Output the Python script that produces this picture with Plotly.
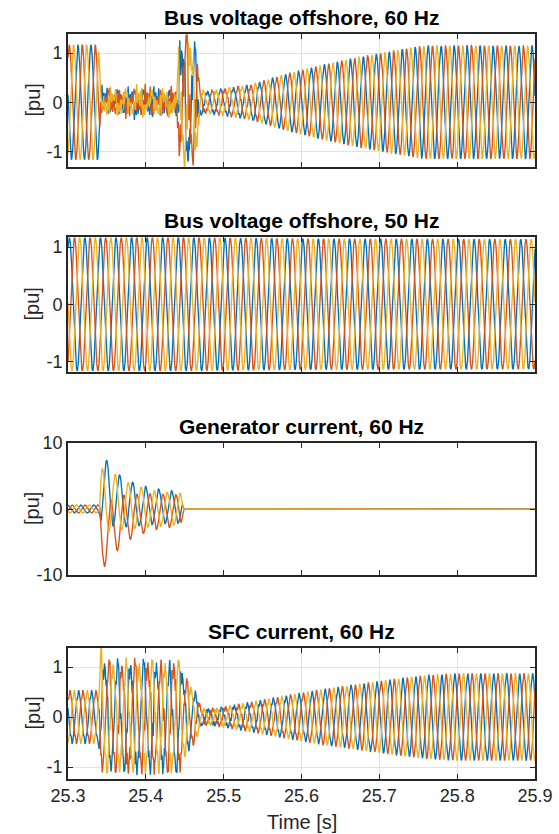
import numpy as np
import plotly.graph_objects as go

# ---------------- data ----------------
T_START, T_END = 25.3, 25.9
FS = 10000  # samples per second
t = np.linspace(T_START, T_END, int(round((T_END - T_START) * FS)) + 1)

PHASE_COLORS = ["#0072BD", "#D95319", "#EDB120"]
PHASE_SHIFT_DEG = [0, -120, 120]

# harmonic ripple content (orders of the fundamental, relative weights, phase offsets)
RIPPLE_ORDERS = [5, 7, 11, 13, 17, 19]
RIPPLE_WEIGHTS = [0.55, 0.45, 0.30, 0.25, 0.15, 0.12]
RIPPLE_OFFSETS = [0.4, 2.1, 3.7, 1.2, 5.0, 2.8]
# non-harmonic disturbance content during the fault (Hz, weights)
DIST_FREQS = [210, 330, 470, 590, 150, 820]
DIST_WEIGHTS = [0.5, 0.5, 0.35, 0.3, 0.45, 0.25]

# Plot 1: bus voltage offshore, 60 Hz (envelope knots)
V60_FREQ = 60.0
V60_TREF = 25.3128
V60_T = [25.300, 25.3395, 25.3420, 25.4400, 25.4425, 25.4500, 25.4600, 25.4660, 25.4700,
         25.4750, 25.5340, 25.5800, 25.6260, 25.6700, 25.7170, 25.7450, 25.7600, 25.9000]
V60_AMP = [1.15, 1.15, 0.14, 0.14, 0.90, 1.10, 1.10, 0.80, 0.24,
           0.20, 0.33, 0.55, 0.73, 0.88, 1.02, 1.10, 1.13, 1.13]
V60_RIP = [0.03, 0.03, 0.11, 0.11, 0.20, 0.20, 0.20, 0.15, 0.06,
           0.04, 0.04, 0.04, 0.04, 0.04, 0.03, 0.03, 0.03, 0.03]
V60_DIST = [0.00, 0.00, 0.11, 0.11, 0.35, 0.38, 0.35, 0.25, 0.05,
            0.02, 0.02, 0.01, 0.01, 0.01, 0.01, 0.01, 0.01, 0.01]

# Plot 2: bus voltage offshore, 50 Hz
V50_FREQ = 50.0
V50_TREF = 25.3017
V50_T = [25.30, 25.45, 25.60, 25.90]
V50_AMP = [1.16, 1.16, 1.14, 1.13]
V50_RIP = [0.01, 0.01, 0.01, 0.01]

# Plot 3: generator current, 60 Hz
GEN_FREQ = 60.0
GEN_TREF = 25.3497
GEN_T = [25.300, 25.3405, 25.3425, 25.3500, 25.3640, 25.3800, 25.3970, 25.4130,
         25.4300, 25.4450, 25.4485, 25.9000]
GEN_AMP = [0.60, 0.60, 4.80, 4.80, 4.10, 3.40, 3.00, 2.70, 2.50, 2.40, 0.03, 0.03]
GEN_DC_A = [0, 0, 2.6, 2.6, 1.2, 0.8, 0.5, 0.4, 0.3, 0.25, 0, 0]
GEN_DC_B = [0, 0, -3.9, -3.9, -2.1, -1.2, -0.7, -0.4, -0.3, -0.25, 0, 0]
GEN_DC_C = [0, 0, 1.3, 1.3, 0.9, 0.4, 0.2, 0.0, 0.0, 0.0, 0, 0]

# Plot 4: SFC current, 60 Hz
SFC_FREQ = 60.0
SFC_TREF = 25.3137
SFC_T = [25.300, 25.3390, 25.3425, 25.4440, 25.4480, 25.4560, 25.4640, 25.4720, 25.4890,
         25.5340, 25.5800, 25.6250, 25.6700, 25.7200, 25.7630, 25.8000, 25.9000]
SFC_AMP = [0.50, 0.50, 1.02, 1.02, 0.75, 0.62, 0.45, 0.14, 0.15,
           0.27, 0.40, 0.52, 0.62, 0.73, 0.81, 0.84, 0.84]
SFC_RIP = [0.06, 0.06, 0.13, 0.13, 0.11, 0.09, 0.07, 0.05, 0.05,
           0.05, 0.05, 0.05, 0.05, 0.05, 0.05, 0.05, 0.05]
SFC_DIST = [0.00, 0.00, 0.14, 0.14, 0.11, 0.08, 0.05, 0.01, 0.01,
            0.01, 0.01, 0.01, 0.01, 0.01, 0.01, 0.01, 0.01]
SFC_SPIKE_T = [25.3300, 25.3410, 25.3428, 25.3445, 25.3600]
SFC_SPIKE_C = [0.0, 0.0, 0.45, 0.0, 0.0]

TITLES = ["Bus voltage offshore, 60 Hz", "Bus voltage offshore, 50 Hz",
          "Generator current, 60 Hz", "SFC current, 60 Hz"]
X_TICKS = [25.3, 25.4, 25.5, 25.6, 25.7, 25.8, 25.9]
X_TICK_TEXT = ["25.3", "25.4", "25.5", "25.6", "25.7", "25.8", "25.9"]
Y_TICKS = [[-1, 0, 1], [-1, 0, 1], [-10, 0, 10], [-1, 0, 1]]
Y_TICK_TEXT = [["-1", "0", "1"], ["-1", "0", "1"], ["-10", "0", "10"], ["-1", "0", "1"]]
Y_RANGES = [[-1.31, 1.38], [-1.18, 1.17], [-10, 10], [-1.24, 1.38]]


# ---------------- signal assembly ----------------
def env(knots_t, knots_v):
    return np.interp(t, knots_t, knots_v)


def three_phase(freq, t_ref, amp, rip=None, dist=None, dc=None):
    traces = []
    for k in range(3):
        phi = np.deg2rad(PHASE_SHIFT_DEG[k])
        w = 2 * np.pi * freq * (t - t_ref) + phi
        y = amp * np.cos(w)
        if rip is not None:
            r = np.zeros_like(t)
            for h, wt, off in zip(RIPPLE_ORDERS, RIPPLE_WEIGHTS, RIPPLE_OFFSETS):
                r += wt * np.sin(h * w + off)
            y = y + rip * r
        if dist is not None:
            d = np.zeros_like(t)
            for j, (f, wt) in enumerate(zip(DIST_FREQS, DIST_WEIGHTS)):
                d += wt * np.sin(2 * np.pi * f * (t - t_ref) + 1.3 * (j + 1) + 2.1 * (k + 1) * (j + 1))
            y = y + dist * d
        if dc is not None:
            y = y + dc[k]
        traces.append(y)
    return traces


sig1 = three_phase(V60_FREQ, V60_TREF, env(V60_T, V60_AMP), env(V60_T, V60_RIP), env(V60_T, V60_DIST))
sig2 = three_phase(V50_FREQ, V50_TREF, env(V50_T, V50_AMP), env(V50_T, V50_RIP))
sig3 = three_phase(GEN_FREQ, GEN_TREF, env(GEN_T, GEN_AMP),
                   dc=[env(GEN_T, GEN_DC_A), env(GEN_T, GEN_DC_B), env(GEN_T, GEN_DC_C)])
sig4 = three_phase(SFC_FREQ, SFC_TREF, env(SFC_T, SFC_AMP), env(SFC_T, SFC_RIP), env(SFC_T, SFC_DIST),
                   dc=[0, 0, env(SFC_SPIKE_T, SFC_SPIKE_C)])
SIGNALS = [sig1, sig2, sig3, sig4]

# ---------------- figure ----------------
W, H = 559, 834
PLOT_L, PLOT_R = 68, 535
PLOT_TOPS = [34.3, 237.3, 443.0, 648.0]
PLOT_BOTS = [166.7, 371.7, 575.0, 779.0]
FONT = "Liberation Sans, Arial, Helvetica, sans-serif"
TXT = "#262626"

fig = go.Figure()
for i, sig in enumerate(SIGNALS):
    ax = "" if i == 0 else str(i + 1)
    for k in range(3):
        fig.add_trace(go.Scatter(
            x=t, y=np.round(sig[k], 4), mode="lines",
            line=dict(color=PHASE_COLORS[k], width=1.35),
            xaxis="x" + ax, yaxis="y" + ax, showlegend=False, hoverinfo="skip"))

layout = dict(
    width=W, height=H,
    margin=dict(l=PLOT_L, r=W - PLOT_R, t=0, b=0, pad=0),
    paper_bgcolor="white", plot_bgcolor="white",
    font=dict(family=FONT, color=TXT, size=18),
    showlegend=False,
)
annotations = []
for i in range(4):
    ax = "" if i == 0 else str(i + 1)
    dom = [1 - PLOT_BOTS[i] / H, 1 - PLOT_TOPS[i] / H]
    grid = i != 2
    layout["xaxis" + ax] = dict(
        domain=[0, 1], range=[T_START, T_END], anchor="y" + ax,
        tickvals=X_TICKS, ticktext=X_TICK_TEXT, showticklabels=(i == 3),
        ticks="inside", ticklen=5, tickwidth=1, tickcolor=TXT,
        showline=True, linecolor=TXT, linewidth=1.6, mirror="ticks",
        showgrid=grid, gridcolor="#E2E2E2", gridwidth=1, zeroline=False,
        tickfont=dict(size=18, color=TXT, family=FONT), automargin=False,
    )
    layout["yaxis" + ax] = dict(
        domain=dom, range=Y_RANGES[i], anchor="x" + ax,
        tickvals=Y_TICKS[i], ticktext=Y_TICK_TEXT[i],
        ticks="inside", ticklen=5, tickwidth=1, tickcolor=TXT,
        showline=True, linecolor=TXT, linewidth=1.6, mirror="ticks",
        showgrid=grid, gridcolor="#E2E2E2", gridwidth=1, zeroline=False,
        tickfont=dict(size=18, color=TXT, family=FONT), automargin=False,
    )
    annotations.append(dict(
        text="<b>" + TITLES[i] + "</b>", xref="paper", yref="paper",
        x=0.5, y=1 - (PLOT_TOPS[i] - 16.5) / H, xanchor="center", yanchor="middle",
        showarrow=False, font=dict(size=21, color="black", family=FONT)))
    annotations.append(dict(
        text="[pu]", xref="paper", yref="paper", textangle=-90,
        x=(32 - PLOT_L) / (PLOT_R - PLOT_L), y=1 - (PLOT_TOPS[i] + PLOT_BOTS[i]) / 2 / H,
        xanchor="center", yanchor="middle", showarrow=False,
        font=dict(size=20, color=TXT, family=FONT)))
annotations.append(dict(
    text="Time [s]", xref="paper", yref="paper",
    x=0.5, y=1 - 822 / H, xanchor="center", yanchor="middle", showarrow=False,
    font=dict(size=20, color=TXT, family=FONT)))
layout["annotations"] = annotations
fig.update_layout(**layout)

fig.write_html("out.html", config={"displayModeBar": False},
               post_script="document.body.style.margin='0';document.body.style.padding='0';document.body.style.overflow='hidden';")
